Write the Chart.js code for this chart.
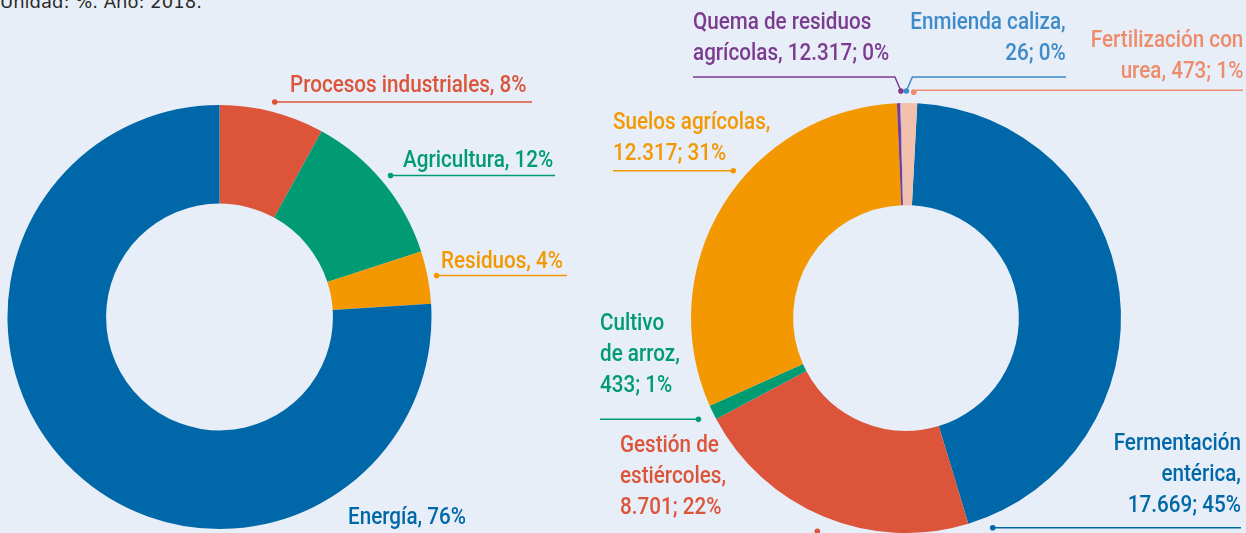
<!DOCTYPE html>
<html>
<head>
<meta charset="utf-8">
<script src="https://cdn.jsdelivr.net/npm/chart.js@4.4.1/dist/chart.umd.min.js"></script>
<style>
	html, body { margin: 0; padding: 0; background: #e7eef8; }
	#wrap { position: relative; width: 1246px; height: 533px; overflow: hidden; }
	canvas { position: absolute; top: 0; }
	#leftChart { left: 0; }
	#rightChart { left: 590px; }
	.note { position: absolute; left: 0; top: -9px; font: 18px "DejaVu Sans", sans-serif; color: #2b2b2b; }
	.lbl { position: absolute; font: 500 24px Roboto, sans-serif; line-height: 31px; white-space: nowrap;
		transform: scaleX(0.86); transform-origin: left top; }
	.lbl.right { transform-origin: right top; }
</style>
</head>
<body>
<div id="wrap">
	<div class="note">Unidad: %. Año: 2018.</div>
	<canvas id="leftChart" width="590" height="533"></canvas>
	<canvas id="rightChart" width="656" height="533"></canvas>
</div>
<script>
	// Emisiones por sector (%)
	const sectorNames = ["Procesos industriales", "Agricultura", "Residuos", "Energía"];
	const sectorPercents = [8, 12, 4, 76];
	const sectorColors = ["#dc5439", "#009b72", "#f39800", "#0067a8"];

	// Emisiones de la agricultura (kt CO2-eq y %)
	const agriNames = ["Fermentación entérica", "Gestión de estiércoles", "Cultivo de arroz", "Suelos agrícolas",
		"Quema de residuos agrícolas", "Enmienda caliza", "Fertilización con urea"];
	const agriValueText = ["17.669", "8.701", "433", "12.317", "12.317", "26", "473"];
	// the label of "Quema" repeats 12.317, but its slice is a sliver (~0%), so its value is estimated
	const agriValues = [17669, 8701, 433, 12317, 100, 26, 473];
	const agriPercents = [45, 22, 1, 31, 0, 0, 1];
	const agriColors = ["#0067a8", "#dc5439", "#009b72", "#f39800", "#7b3b8f", "#8fb1dc", "#f4c0ae"];
	const agriTextColors = ["#0067a8", "#dc5439", "#009b72", "#f39800", "#7b3b8f", "#3d8bc8", "#ee8b6b"];

	const wrap = document.getElementById("wrap");

	// text labels: x, y (top of first line), align, words per line
	function addLabel(text, color, x, y, align, lines) {
		const div = document.createElement("div");
		div.className = "lbl";
		div.style.color = color;
		div.style.top = y + "px";
		if (align === "right") {
			div.classList.add("right");
			div.style.right = (1246 - x) + "px";
			div.style.textAlign = "right";
		} else {
			div.style.left = x + "px";
		}
		const words = text.split(" ");
		let rows = [], k = 0;
		(lines || [words.length]).forEach(n => { rows.push(words.slice(k, k + n).join(" ")); k += n; });
		div.innerHTML = rows.join("<br>");
		wrap.appendChild(div);
	}

	const sectorLayout = [
		{ x: 290, y: 69 },
		{ x: 403, y: 144 },
		{ x: 441, y: 245 },
		{ x: 348, y: 501 },
	];
	sectorNames.forEach((n, i) => {
		addLabel(n + ", " + sectorPercents[i] + "%", sectorColors[i], sectorLayout[i].x, sectorLayout[i].y, "left");
	});

	const agriLayout = [
		{ x: 1241, y: 427, align: "right", lines: [1, 1, 2] },
		{ x: 620, y: 429, align: "left", lines: [2, 1, 2] },
		{ x: 600, y: 307, align: "left", lines: [1, 2, 2] },
		{ x: 613, y: 106, align: "left", lines: [2, 2] },
		{ x: 693, y: 6, align: "left", lines: [3, 3] },
		{ x: 1066, y: 6, align: "right", lines: [2, 2] },
		{ x: 1243, y: 24, align: "right", lines: [2, 3] },
	];
	agriNames.forEach((n, i) => {
		const l = agriLayout[i];
		addLabel(n + ", " + agriValueText[i] + "; " + agriPercents[i] + "%", agriTextColors[i], l.x, l.y, l.align, l.lines);
	});

	// leader lines: dot placed on the slice (frac along it, plus extra degrees), elbow, end x (page coords)
	const leaderPlugin = {
		id: "leaders",
		afterDraw(chart, args, opts) {
			const ctx = chart.ctx;
			const meta = chart.getDatasetMeta(0);
			opts.items.forEach(it => {
				const arc = meta.data[it.i];
				const a = arc.startAngle + (arc.endAngle - arc.startAngle) * (it.frac ?? 0.5) + (it.deg || 0) * Math.PI / 180;
				const r = arc.outerRadius + it.r;
				const px = arc.x + Math.cos(a) * r;
				const py = arc.y + Math.sin(a) * r;
				ctx.save();
				ctx.strokeStyle = it.color;
				ctx.fillStyle = it.color;
				ctx.lineWidth = 1.5;
				if (it.toX != null) {
					const ex = px + (it.elbow ? it.elbow[0] : 0);
					const ey = py + (it.elbow ? it.elbow[1] : 0);
					ctx.beginPath();
					ctx.moveTo(px, py);
					ctx.lineTo(ex, ey);
					ctx.lineTo(it.toX - opts.offsetX, ey);
					ctx.stroke();
				}
				ctx.beginPath();
				ctx.arc(px, py, 2.8, 0, Math.PI * 2);
				ctx.fill();
				ctx.restore();
			});
		}
	};

	new Chart(document.getElementById("leftChart"), {
		type: "doughnut",
		data: {
			labels: sectorNames,
			datasets: [{ data: sectorPercents, backgroundColor: sectorColors, borderWidth: 0 }],
		},
		options: {
			responsive: false,
			animation: false,
			cutout: "53.5%",
			layout: { padding: { left: 7.5, right: 158.5, top: 105, bottom: 4 } },
			plugins: {
				legend: { display: false },
				tooltip: { enabled: false },
				leaders: {
					offsetX: 0,
					items: [
						{ i: 0, r: 10, toX: 532, color: sectorColors[0] },
						{ i: 1, r: 10, toX: 555, color: sectorColors[1] },
						{ i: 2, r: 9, toX: 567, color: sectorColors[2] },
					]
				}
			},
		},
		plugins: [leaderPlugin],
	});

	new Chart(document.getElementById("rightChart"), {
		type: "doughnut",
		data: {
			labels: agriNames,
			datasets: [{ data: agriValues, backgroundColor: agriColors, borderWidth: 0 }],
		},
		options: {
			responsive: false,
			animation: false,
			rotation: 3,
			cutout: "52.5%",
			layout: { padding: { left: 101, right: 125, top: 103, bottom: 0 } },
			plugins: {
				legend: { display: false },
				tooltip: { enabled: false },
				leaders: {
					offsetX: 590,
					items: [
						{ i: 0, frac: 0.965, r: 12, toX: 1241, color: agriTextColors[0] },
						{ i: 1, r: 16, toX: null, color: agriTextColors[1] },
						{ i: 2, r: 16, toX: 600, color: agriTextColors[2] },
						{ i: 3, frac: 0.578, r: 12, toX: 613, color: agriTextColors[3] },
						{ i: 4, deg: 0.7, r: 12, elbow: [-6, -14], toX: 693, color: agriTextColors[4] },
						{ i: 5, deg: 1.5, r: 12, elbow: [6, -14], toX: 1066, color: agriTextColors[5] },
						{ i: 6, deg: 1.1, r: 11, elbow: [3, -2], toX: 1243, color: agriTextColors[6] },
					]
				}
			},
		},
		plugins: [leaderPlugin],
	});
</script>
</body>
</html>
